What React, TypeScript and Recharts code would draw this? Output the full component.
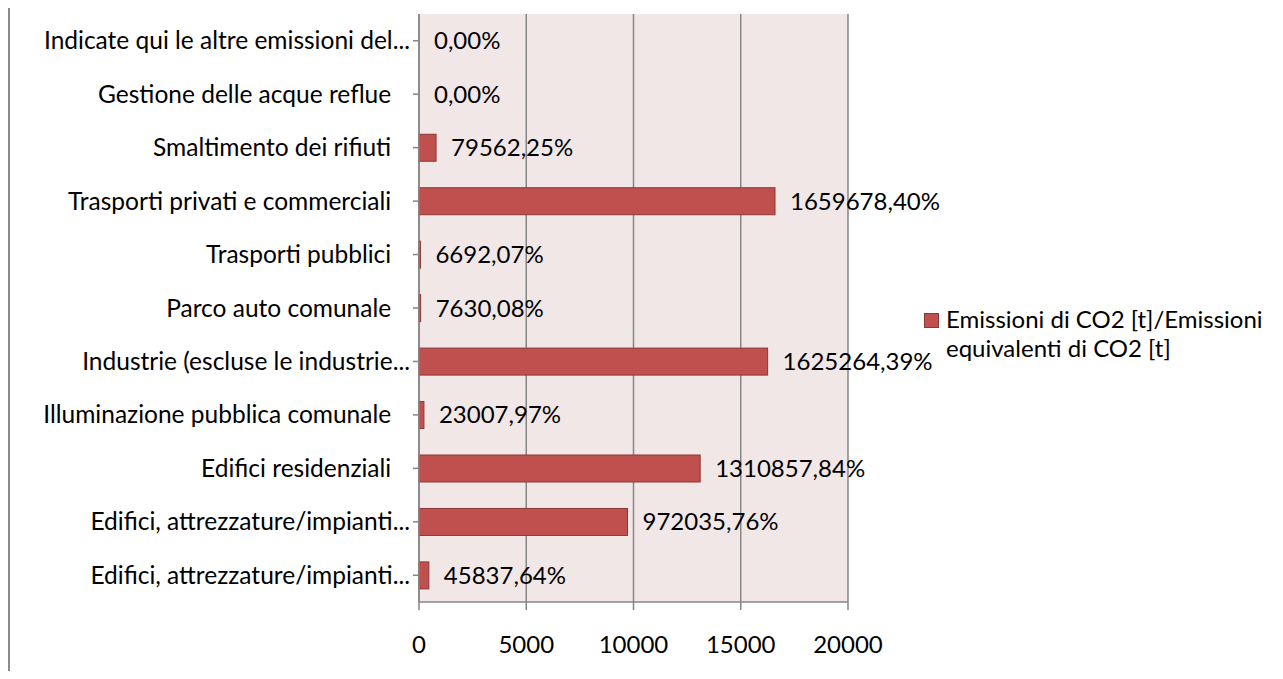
import React from 'react'
import { Bar, BarChart, CartesianGrid, LabelList, XAxis, YAxis } from 'recharts'

// sector names as shown on the axis (long ones are already cut with an ellipsis,
// the others carry the trailing spaces of the source sheet)
const categories = [
  'Indicate qui le altre emissioni del...',
  'Gestione delle acque reflue   ',
  'Smaltimento dei rifiuti   ',
  'Trasporti privati e commerciali   ',
  'Trasporti pubblici   ',
  'Parco auto comunale   ',
  'Industrie (escluse le industrie...',
  'Illuminazione pubblica comunale   ',
  'Edifici residenziali   ',
  'Edifici, attrezzature/impianti...',
  'Edifici, attrezzature/impianti...',
]

// CO2 emissions in tonnes, same order as categories
const emissions = [
  0, 0, 795.6225, 16596.784, 66.9207, 76.3008, 16252.6439, 230.0797, 13108.5784, 9720.3576, 458.3764,
]

const xTicks = [0, 5000, 10000, 15000, 20000]

const seriesName = 'Emissioni di CO2 [t]/Emissioni'
const seriesNameLine2 = 'equivalenti di CO2 [t]'

const data = categories.map((name, i) => ({ key: `${i}`, name, value: emissions[i] }))

const FONT = 'Lato, "Noto Sans", sans-serif'
const FONT_SIZE = 24
const BAR_RED = '#c0504d'
const BAR_EDGE = '#8c3836'
const GRID_GREY = '#868686'

// the labels print the value as a percentage with a comma decimal separator
const asPercent = (v: any) => (Number(v) * 100).toFixed(2).replace('.', ',') + '%'

const styles = {
  page: {
    position: 'relative' as 'relative',
    width: 1267,
    height: 663,
    fontFamily: FONT,
  },
  frameLine: {
    position: 'absolute' as 'absolute',
    left: -1,
    top: -8,
    width: 3,
    height: 679,
    background: '#8a8a8a',
  },
  legend: {
    position: 'absolute' as 'absolute',
    left: 916,
    top: 296,
    display: 'flex',
    alignItems: 'flex-start',
    fontFamily: FONT,
    fontSize: FONT_SIZE,
    lineHeight: '29px',
    color: '#000',
    whiteSpace: 'nowrap' as 'nowrap',
  },
  legendSwatch: {
    width: 13,
    height: 13,
    marginTop: 9,
    marginRight: 7,
    background: BAR_RED,
    border: `1px solid ${BAR_EDGE}`,
  },
}

const YTick = (props: any) => {
  const { x, y, payload } = props
  return (
    <text
      x={x}
      y={y}
      dy="0.35em"
      textAnchor="end"
      fontFamily={FONT}
      fontSize={24.5}
      fill="#000"
      style={{ whiteSpace: 'pre' }}
    >
      {categories[Number(payload.value)]}
    </text>
  )
}

// bars of zero length keep a hairline slot (minPointSize) so their label
// still gets placed, but nothing is painted for them
const BarShape = (props: any) => {
  const { x, y, width, height } = props
  if (!(width > 0.5)) return <g />
  return (
    <rect x={x} y={y} width={width} height={height} fill={BAR_RED} stroke={BAR_EDGE} strokeWidth={1} />
  )
}

// value label drawn just past the end of each bar
const ValueLabel = (props: any) => {
  const { x, y, width, height, value } = props
  return (
    <text
      x={Number(x) + Math.max(Number(width), 0) + 15}
      y={Number(y) + Number(height) / 2}
      dy="0.35em"
      fontFamily={FONT}
      fontSize={FONT_SIZE}
      fill="#000"
    >
      {asPercent(value)}
    </text>
  )
}

const App: React.FC = () => {
  return (
    <div style={styles.page}>
      <div style={styles.frameLine} />
      <BarChart
        width={1267}
        height={663}
        data={data}
        layout="vertical"
        barCategoryGap="25%"
        margin={{ top: 6, right: 427, bottom: 29, left: 0 }}
      >
        <CartesianGrid horizontal={false} stroke={GRID_GREY} strokeWidth={1.5} fill="#f2e7e7" verticalValues={xTicks} />
        <XAxis
          type="number"
          domain={[0, 20000]}
          ticks={xTicks}
          height={40}
          tickSize={8}
          tickMargin={26}
          stroke={GRID_GREY}
          strokeWidth={1.5}
          tick={{ fill: '#000', fontSize: FONT_SIZE, fontFamily: FONT }}
          interval={0}
        />
        <YAxis
          type="category"
          dataKey="key"
          width={411}
          tickSize={6}
          tickMargin={3}
          stroke={GRID_GREY}
          strokeWidth={1.5}
          tick={<YTick />}
          interval={0}
        />
        <Bar
          dataKey="value"
          name={seriesName}
          fill={BAR_RED}
          minPointSize={0.01}
          shape={<BarShape />}
          isAnimationActive={false}
        >
          <LabelList dataKey="value" content={<ValueLabel />} />
        </Bar>
      </BarChart>
      <div style={styles.legend}>
        <div style={styles.legendSwatch} />
        <div>
          {seriesName}
          <br />
          {seriesNameLine2}
        </div>
      </div>
    </div>
  )
}

export default App
